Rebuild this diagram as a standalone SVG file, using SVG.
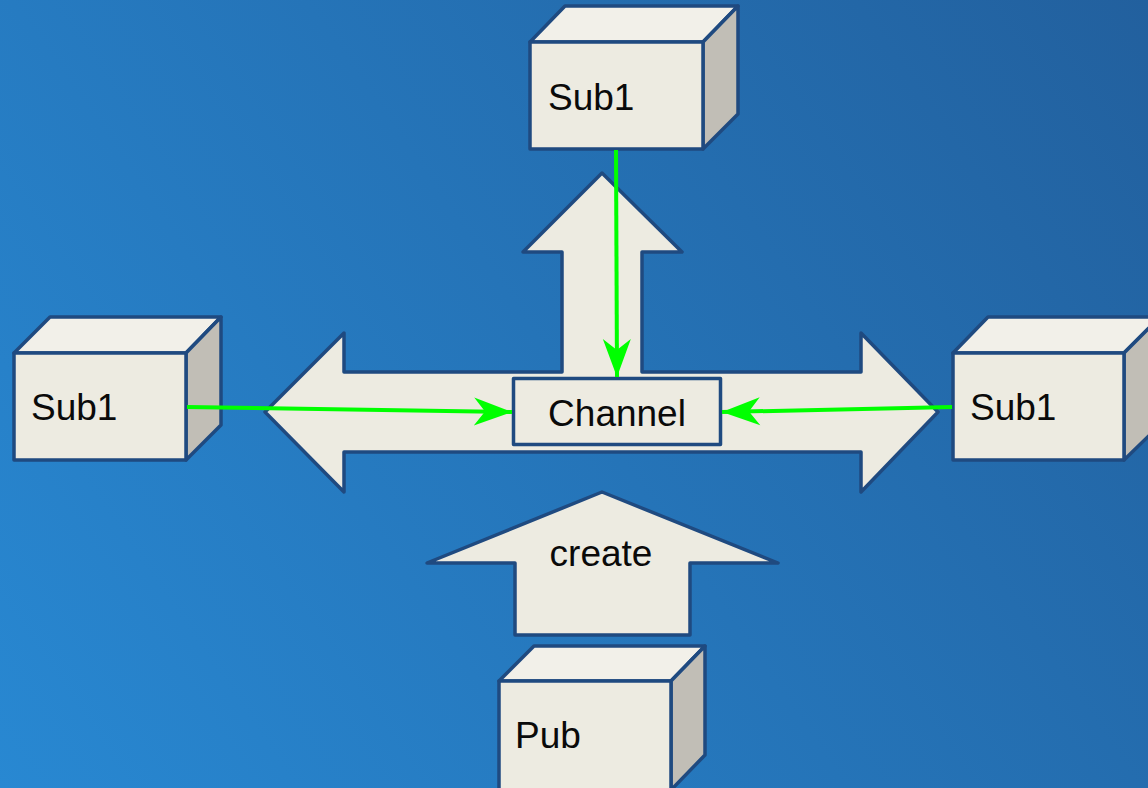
<svg xmlns="http://www.w3.org/2000/svg" width="1148" height="788" viewBox="0 0 1148 788">
  <defs>
    <linearGradient id="bg" x1="0" y1="788" x2="1148" y2="0" gradientUnits="userSpaceOnUse">
      <stop offset="0" stop-color="#2888d2"/>
      <stop offset="1" stop-color="#22609e"/>
    </linearGradient>
    <marker id="head" markerUnits="userSpaceOnUse" markerWidth="44" markerHeight="32" viewBox="-40 -16 44 32" refX="0" refY="0" orient="auto">
      <path d="M0,0 L-38,-14 L-27,0 L-38,14 Z" fill="#00ff00"/>
    </marker>
    <style>
      .edge { stroke: #1f4a80; stroke-width: 3.5; stroke-linejoin: round; }
      .front { fill: #edebe1; }
      .top { fill: #f2f0e9; }
      .side { fill: #c1beb6; }
      .shape { fill: #edebe1; }
      .label { font-family: "Liberation Sans", Arial, sans-serif; font-size: 37px; fill: #0a0a0a; }
      .conn { stroke: #00ff00; stroke-width: 4; fill: none; marker-end: url(#head); }
    </style>
  </defs>

  <rect x="0" y="0" width="1148" height="788" fill="url(#bg)"/>

  <!-- three-way arrow: left, right, up -->
  <g id="broadcast">
    <polygon class="shape edge" points="344,372 562,372 562,252 523,252 602,173 682,252 642,252 642,372 861,372 861,333 938,412 861,492 861,452 344,452 344,492 265,412 344,333"/>
  </g>

  <!-- create arrow -->
  <g id="create">
    <polygon class="shape edge" points="515,635 515,563 427,563 602,492 778,563 690,563 690,635"/>
    <text class="label" x="601" y="566" text-anchor="middle">create</text>
  </g>

  <!-- channel -->
  <g id="channel">
    <rect class="shape edge" x="513.5" y="378.5" width="207" height="66"/>
    <text class="label" x="617" y="426" text-anchor="middle">Channel</text>
  </g>

  <!-- subscriber, top -->
  <g id="sub-top">
    <polygon class="top edge" points="530,42 565,6 738,6 703,42"/>
    <polygon class="side edge" points="703,42 738,6 738,114 703,149"/>
    <rect class="front edge" x="530" y="42" width="173" height="107"/>
    <text class="label" x="548" y="110">Sub1</text>
  </g>

  <!-- subscriber, left -->
  <g id="sub-left">
    <polygon class="top edge" points="14,353 50,317 221,317 186,353"/>
    <polygon class="side edge" points="186,353 221,317 221,425 186,460"/>
    <rect class="front edge" x="14" y="353" width="172" height="107"/>
    <text class="label" x="31" y="420">Sub1</text>
  </g>

  <!-- subscriber, right -->
  <g id="sub-right">
    <polygon class="top edge" points="953,353 988,317 1160,317 1124,353"/>
    <polygon class="side edge" points="1124,353 1160,317 1160,425 1124,460"/>
    <rect class="front edge" x="953" y="353" width="171" height="107"/>
    <text class="label" x="970" y="420">Sub1</text>
  </g>

  <!-- publisher -->
  <g id="pub">
    <polygon class="top edge" points="499,681 534,646 705,646 671,681"/>
    <polygon class="side edge" points="671,681 705,646 705,755 671,790"/>
    <rect class="front edge" x="499" y="681" width="172" height="110"/>
    <text class="label" x="515" y="748">Pub</text>
  </g>

  <!-- subscriptions -->
  <g id="connectors">
    <line class="conn" x1="616" y1="150" x2="617" y2="377"/>
    <line class="conn" x1="187" y1="407" x2="512" y2="412"/>
    <line class="conn" x1="952" y1="407" x2="722" y2="412"/>
  </g>
</svg>
